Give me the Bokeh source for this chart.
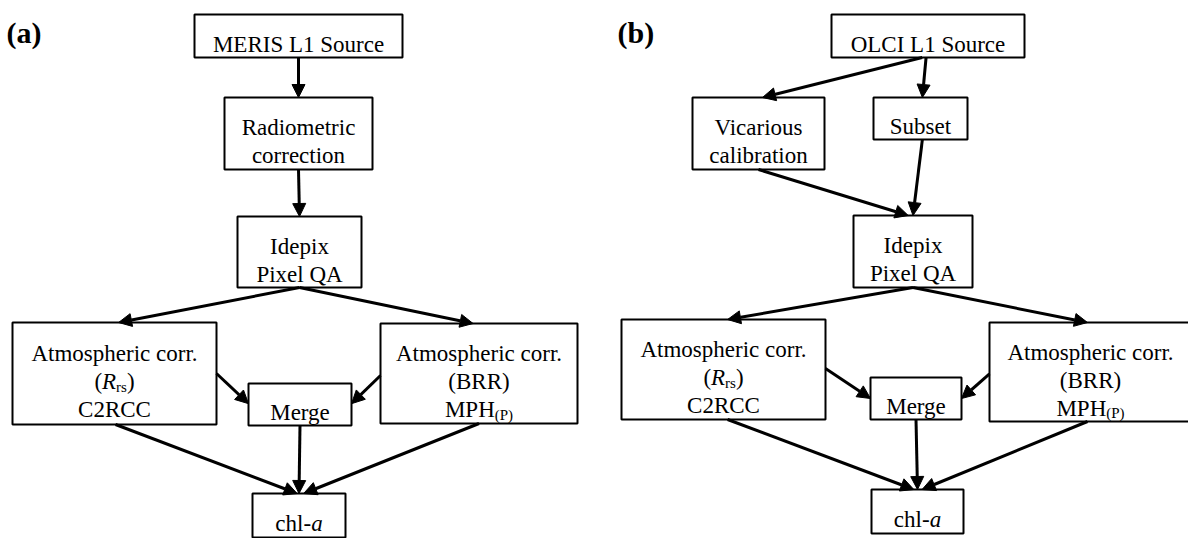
from bokeh.plotting import figure
from bokeh.models import Range1d, Arrow, NormalHead, ColumnDataSource
from bokeh.core.properties import value
from bokeh.embed import file_html
from bokeh.resources import INLINE

# ---------------- content ----------------
panel_labels = ["(a)", "(b)"]

RRS = [("(", "normal", False), ("R", "italic", False), ("rs", "normal", True), (")", "normal", False)]
MPH = [("MPH", "normal", False), ("(P)", "normal", True)]
CHL = [("chl-", "normal", False), ("a", "italic", False)]

nodes_a_names = ["src", "radio", "idepix", "atmL", "merge", "atmR", "chl"]
nodes_a_labels = [
    ["MERIS L1 Source"],
    ["Radiometric", "correction"],
    ["Idepix", "Pixel QA"],
    ["Atmospheric corr.", RRS, "C2RCC"],
    ["Merge"],
    ["Atmospheric corr.", "(BRR)", MPH],
    [CHL],
]
nodes_b_names = ["src", "vic", "subset", "idepix", "atmL", "merge", "atmR", "chl"]
nodes_b_labels = [
    ["OLCI L1 Source"],
    ["Vicarious", "calibration"],
    ["Subset"],
    ["Idepix", "Pixel QA"],
    ["Atmospheric corr.", RRS, "C2RCC"],
    ["Merge"],
    ["Atmospheric corr.", "(BRR)", MPH],
    [CHL],
]

# ---------------- layout (pixel space of the reference) ----------------
# box: left, right, top, bottom
layout_a = {
    "src": (194, 402, 14, 57),
    "radio": (224, 372, 97, 169),
    "idepix": (237, 361, 216, 287),
    "atmL": (12, 216, 322, 424),
    "merge": (248, 351, 383, 425),
    "atmR": (380, 577, 323, 423),
    "chl": (252, 345, 493, 537),
}
layout_b = {
    "src": (831, 1024, 14, 57),
    "vic": (692, 824, 97, 169),
    "subset": (873, 967, 97, 139),
    "idepix": (853, 972, 215, 287),
    "atmL": (621, 825, 319, 419),
    "merge": (870, 961, 377, 419),
    "atmR": (989, 1191, 322, 421),
    "chl": (871, 963, 489, 533),
}
# edges: (src, fx, fy, dst, fx, fy)  fractions inside the boxes
edges_a = [
    ("src", 0.5, 1, "radio", 0.5, 0),
    ("radio", 0.5, 1, "idepix", 0.5, 0),
    ("idepix", 0.5, 1, "atmL", 0.52, 0),
    ("idepix", 0.5, 1, "atmR", 0.47, 0),
    ("atmL", 1, 0.5, "merge", 0, 0.48),
    ("atmR", 0, 0.52, "merge", 1, 0.48),
    ("merge", 0.5, 1, "chl", 0.5, 0),
    ("atmL", 0.505, 1, "chl", 0.48, 0),
    ("atmR", 0.5, 1, "chl", 0.55, 0),
]
edges_b = [
    ("src", 0.47, 1, "vic", 0.53, 0),
    ("src", 0.49, 1, "subset", 0.52, 0),
    ("vic", 0.5, 1, "idepix", 0.46, 0),
    ("subset", 0.52, 1, "idepix", 0.5, 0),
    ("idepix", 0.5, 1, "atmL", 0.52, 0),
    ("idepix", 0.5, 1, "atmR", 0.485, 0),
    ("atmL", 1, 0.49, "merge", 0, 0.5),
    ("atmR", 0, 0.52, "merge", 1, 0.5),
    ("merge", 0.5, 1, "chl", 0.5, 0),
    ("atmL", 0.52, 1, "chl", 0.46, 0),
    ("atmR", 0.485, 1, "chl", 0.55, 0),
]
label_pos = [(6, 32), (617, 32)]

FONT = "Liberation Serif"
SIZE = 23
SUB = 15
SUB_DROP = 5
LINE = 28
BASE_OFF = 8

# Times metrics (per 1000 em)
W = {
    "normal": {"(": 333, ")": 333, "r": 333, "s": 389, "M": 889, "P": 556, "H": 722,
               "c": 444, "h": 500, "l": 278, "-": 333},
    "italic": {"R": 611, "a": 500},
}


def seg_w(t, style, size):
    return sum(W[style].get(ch, 500) for ch in t) / 1000.0 * size


p = figure(width=1188, height=538, x_range=Range1d(0, 1188), y_range=Range1d(538, 0),
           output_backend="svg", toolbar_location=None, min_border=0)
p.axis.visible = False
p.grid.visible = False
p.outline_line_color = None
p.background_fill_color = "white"
p.border_fill_color = "white"

plain = dict(x=[], y=[], text=[])
rich = dict(x=[], y=[], text=[], size=[], style=[])
quads = dict(left=[], right=[], top=[], bottom=[])
arrows = dict(x0=[], y0=[], x1=[], y1=[])

for names, labels, lay, edges in [(nodes_a_names, nodes_a_labels, layout_a, edges_a),
                                  (nodes_b_names, nodes_b_labels, layout_b, edges_b)]:
    for name, lines in zip(names, labels):
        l, r, t, b = lay[name]
        quads["left"].append(l); quads["right"].append(r)
        quads["top"].append(t); quads["bottom"].append(b)
        cx, cy = (l + r) / 2, (t + b) / 2
        n = len(lines)
        for i, line in enumerate(lines):
            base = cy + (i - (n - 1) / 2) * LINE + BASE_OFF
            if isinstance(line, str):
                plain["x"].append(cx); plain["y"].append(base); plain["text"].append(line)
            else:
                total = sum(seg_w(s, st, SUB if sub else SIZE) for s, st, sub in line)
                x = cx - total / 2
                for s, st, sub in line:
                    sz = SUB if sub else SIZE
                    rich["x"].append(x)
                    rich["y"].append(base + (SUB_DROP if sub else 0))
                    rich["text"].append(s)
                    rich["size"].append(f"{sz}px")
                    rich["style"].append(st)
                    x += seg_w(s, st, sz)
    for s, sfx, sfy, d, dfx, dfy in edges:
        l, r, t, b = lay[s]
        arrows["x0"].append(l + sfx * (r - l)); arrows["y0"].append(t + sfy * (b - t))
        l, r, t, b = lay[d]
        arrows["x1"].append(l + dfx * (r - l)); arrows["y1"].append(t + dfy * (b - t))

p.quad(source=ColumnDataSource(quads), left="left", right="right", top="top", bottom="bottom",
       fill_color="white", line_color="black", line_width=2)

p.add_layout(Arrow(source=ColumnDataSource(arrows), x_start="x0", y_start="y0", x_end="x1", y_end="y1",
                   line_width=3, line_color="black",
                   end=NormalHead(size=13, fill_color="black", line_color="black", line_width=1)))

p.text(source=ColumnDataSource(plain), x="x", y="y", text="text",
       text_font=value(FONT), text_font_size=f"{SIZE}px", text_align="center",
       text_baseline="alphabetic", text_color="black")
p.text(source=ColumnDataSource(rich), x="x", y="y", text="text",
       text_font=value(FONT), text_font_size="size", text_font_style="style",
       text_align="left", text_baseline="alphabetic", text_color="black")

p.text(x=[q[0] for q in label_pos], y=[q[1] for q in label_pos], text=panel_labels,
       text_font=value(FONT), text_font_size="30px", text_font_style="bold",
       text_align="left", text_baseline="alphabetic", text_color="black")

open("out.html", "w").write(file_html(p, INLINE))
